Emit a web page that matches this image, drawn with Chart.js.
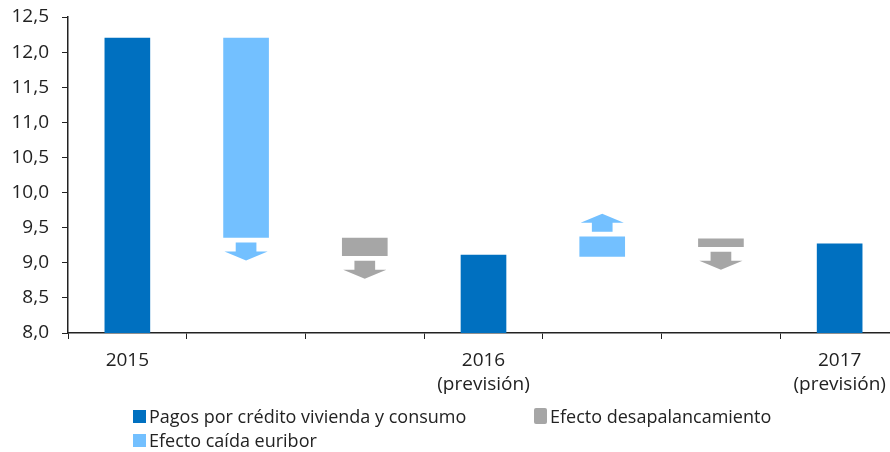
<!DOCTYPE html>
<html>
<head>
<meta charset="utf-8">
<script src="https://cdn.jsdelivr.net/npm/chart.js@4"></script>
<style>
  html, body { margin: 0; padding: 0; background: #fff; overflow: hidden; }
  #wrap { position: relative; width: 900px; height: 452px; }
  #legend {
    position: absolute; left: 133px; top: 404px;
    display: grid; grid-template-columns: 401px auto; grid-template-rows: 24px 24px;
    grid-auto-flow: column;
    font-family: "Open Sans", sans-serif; font-size: 18px; color: #222;
  }
  .item { display: flex; align-items: center; white-space: nowrap; }
  .box { width: 13px; height: 13px; margin-right: 3px; }
</style>
</head>
<body>
<div id="wrap">
  <canvas id="chart" width="900" height="452"></canvas>
  <div id="legend"></div>
</div>
<script>
// categorías del eje X
const categories = [['2015'], '', '', ['2016', '(previsión)'], '', '', ['2017', '(previsión)']];
// pagos totales (barras completas desde 8,0)
const pagos = [12.2, null, null, 9.11, null, null, 9.27];
// efectos: [inicio, fin] -> la flecha indica el sentido
const euribor = [null, [12.2, 9.36], null, null, [9.09, 9.37], null, null];
const desapalancamiento = [null, null, [9.35, 9.10], null, null, [9.34, 9.23], null];
// eje Y
const yMin = 8, yMax = 12.5, yStep = 0.5;

const AXIS = '#222';
const FONT = 'Open Sans';

// flechas debajo/encima de las barras flotantes
const arrowPlugin = {
    id: 'arrows',
    afterDatasetsDraw(chart) {
        const ctx = chart.ctx;
        chart.data.datasets.forEach((ds, di) => {
            if (!ds.arrows) return;
            const meta = chart.getDatasetMeta(di);
            meta.data.forEach((el, i) => {
                const raw = ds.data[i];
                if (!raw) return;
                const down = raw[1] < raw[0];
                const w = el.width;
                const gap = 5, shaft = 9, head = 9;
                const dir = down ? 1 : -1;
                const edge = down ? Math.max(el.y, el.base) : Math.min(el.y, el.base);
                const y0 = edge + dir * gap;
                const y1 = y0 + dir * shaft;
                const y2 = y1 + dir * head;
                ctx.save();
                ctx.fillStyle = ds.backgroundColor;
                ctx.beginPath();
                ctx.moveTo(el.x - w * 0.23, y0);
                ctx.lineTo(el.x + w * 0.23, y0);
                ctx.lineTo(el.x + w * 0.23, y1);
                ctx.lineTo(el.x + w * 0.48, y1);
                ctx.lineTo(el.x, y2);
                ctx.lineTo(el.x - w * 0.48, y1);
                ctx.lineTo(el.x - w * 0.23, y1);
                ctx.closePath();
                ctx.fill();
                ctx.restore();
            });
        });
    }
};

const chart = new Chart(document.getElementById('chart'), {
    type: 'bar',
    data: {
        labels: categories,
        datasets: [
            { label: 'Pagos por crédito vivienda y consumo', data: pagos, backgroundColor: '#0070C0' },
            { label: 'Efecto caída euribor', data: euribor, backgroundColor: '#73C0FF', arrows: true },
            { label: 'Efecto desapalancamiento', data: desapalancamiento, backgroundColor: '#A6A6A6', arrows: true }
        ]
    },
    options: {
        responsive: false,
        animation: false,
        layout: { padding: { top: 17, right: 1, left: 0, bottom: 0 } },
        datasets: { bar: { grouped: false, barThickness: 45, skipNull: true } },
        plugins: { legend: { display: false }, tooltip: { enabled: false } },
        scales: {
            x: {
                offset: true,
                grid: { offset: true, drawOnChartArea: false, color: AXIS, tickLength: 6 },
                border: { color: AXIS, width: 1.5 },
                ticks: {
                    color: AXIS, font: { family: FONT, size: 19, lineHeight: 1.3 },
                    padding: 9, maxRotation: 0, autoSkip: false
                },
                afterFit: s => { s.height = 119; s.paddingLeft = 0; s.paddingRight = 0; }
            },
            y: {
                min: yMin, max: yMax,
                grid: { drawOnChartArea: false, color: AXIS, tickLength: 6 },
                border: { color: AXIS, width: 1.5 },
                ticks: {
                    stepSize: yStep, color: AXIS, padding: 13,
                    font: { family: FONT, size: 19 },
                    callback: v => v.toFixed(1).replace('.', ',')
                },
                afterFit: s => { s.width = 68; s.paddingTop = 0; s.paddingBottom = 0; }
            }
        }
    },
    plugins: [arrowPlugin]
});

// leyenda en dos columnas
const legend = document.getElementById('legend');
chart.data.datasets.forEach((ds, i) => {
    const item = document.createElement('div');
    item.className = 'item';
    const box = document.createElement('span');
    box.className = 'box';
    box.style.background = ds.backgroundColor;
    if (i === 2) { box.style.height = '16px'; box.style.borderRadius = '2px'; }
    item.appendChild(box);
    item.appendChild(document.createTextNode(ds.label));
    legend.appendChild(item);
});
</script>
</body>
</html>
